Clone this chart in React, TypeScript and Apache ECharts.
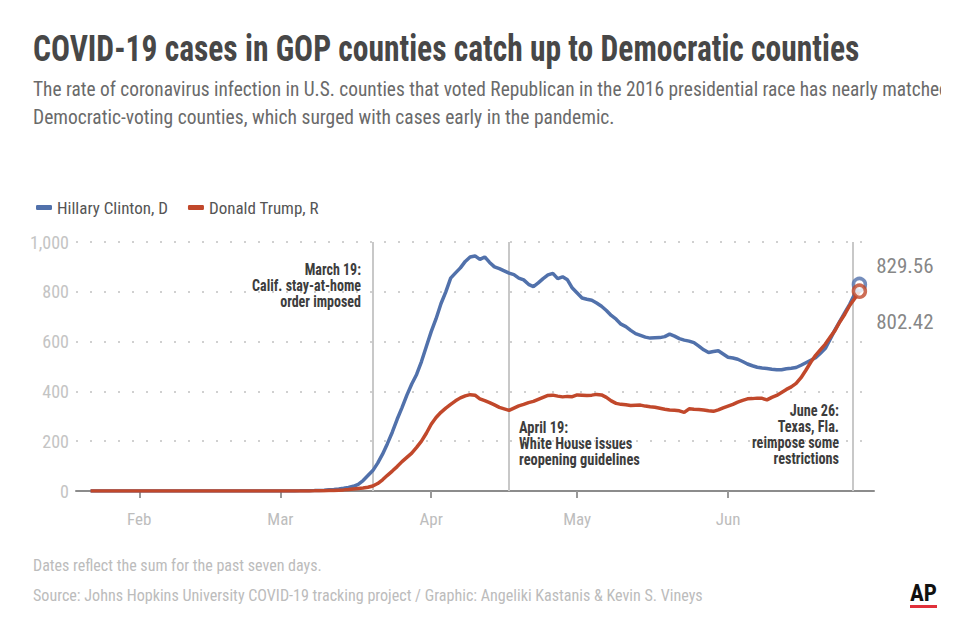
import React, { useEffect, useRef } from "react";
import * as echarts from "echarts";

// ---- Data (day index 0 = Jan 22, 2020; last = Jun 28, 2020) ----
const months = ["Feb", "Mar", "Apr", "May", "Jun"];
const monthStartDays = [10, 39, 70, 100, 131];
const yTicks = [0, 200, 400, 600, 800, 1000];
const eventDays = [58, 86, 156.6];

const clinton = [
  0, 0, 0, 0, 0, 0, 0, 0, 0, 0,
  0, 0, 0, 0, 0, 0, 0, 0, 0, 0,
  0, 0, 0, 0, 0, 0, 0, 0, 0, 0,
  0, 0, 0, 0, 0, 0, 0, 0, 0,
  0.2, 0.3, 0.4, 0.5, 0.7, 1, 1.3, 1.8, 2.5, 3.5,
  5, 6.5, 8.5, 11, 14, 19, 27, 42, 62, 82,
  112, 148, 190, 236, 288, 335, 385, 430, 468, 520,
  580, 640, 692, 752, 800, 855, 876, 896, 922, 940,
  944, 930, 940, 918, 900, 893, 884, 875, 869, 855,
  848, 830, 821, 836, 853, 868, 874, 853, 860, 848,
  815, 795, 775, 770, 766, 755, 742, 725, 705, 690,
  670, 660, 645, 632, 625, 618, 614, 615, 616, 620,
  630, 622, 612, 606, 602, 596, 582, 567, 556, 560,
  563, 550, 537, 534, 529, 520, 510, 503, 497, 494,
  492, 489, 487, 487, 491, 493, 496, 505, 515, 525,
  535, 553, 573, 610, 648, 682, 716, 750, 790, 829.56,
];

const trump = [
  0, 0, 0, 0, 0, 0, 0, 0, 0, 0,
  0, 0, 0, 0, 0, 0, 0, 0, 0, 0,
  0, 0, 0, 0, 0, 0, 0, 0, 0, 0,
  0, 0, 0, 0, 0, 0, 0, 0, 0, 0,
  0.1, 0.1, 0.2, 0.3, 0.4, 0.5, 0.7, 1, 1.4, 2,
  2.5, 3.5, 4.5, 6, 8, 10, 12, 15, 20, 30,
  45, 63, 80, 98, 118, 135, 152, 175, 200, 232,
  268, 295, 316, 333, 348, 362, 374, 382, 387, 385,
  370, 363, 355, 346, 336, 330, 324, 333, 342, 348,
  355, 360, 368, 376, 384, 385, 381, 378, 380, 379,
  386, 385, 384, 385, 388, 386, 376, 362, 352, 348,
  346, 343, 344, 345, 341, 338, 336, 332, 328, 325,
  324, 322, 316, 330, 328, 327, 325, 322, 320, 326,
  334, 341, 348, 357, 364, 370, 371, 373, 372, 366,
  376, 384, 396, 408, 418, 432, 455, 485, 517, 545,
  568, 590, 618, 645, 680, 710, 745, 772, 802.42,
];

const BLUE = "#5171ab";
const RED = "#c1482b";
const FONT =
  "'Liberation Sans Narrow', 'Roboto Condensed', 'DejaVu Sans Condensed', Roboto, sans-serif";

function measure(text: string, font: string): number {
  const c = document.createElement("canvas").getContext("2d");
  if (!c) return 100;
  c.font = font;
  return c.measureText(text).width;
}

function fitText(
  text: string,
  x: number,
  y: number,
  width: number,
  size: number,
  weight: string,
  color: string,
  align: string = "left",
  lineHeight?: number,
  measureText?: string
) {
  const lines = (measureText || text).split("\n");
  const font = `${weight} ${size}px ${FONT}`;
  const w = Math.max(...lines.map((l) => measure(l, font)));
  const sx = w > 0 ? width / w : 1;
  return {
    type: "text",
    x,
    y,
    scaleX: sx,
    silent: true,
    style: {
      text,
      x: 0,
      y: 0,
      fill: color,
      fontSize: size,
      fontWeight: weight,
      fontFamily: FONT,
      align,
      verticalAlign: "top",
      lineHeight: lineHeight || size * 1.2,
    },
  };
}

export default function App() {
  const ref = useRef<HTMLDivElement>(null);
  useEffect(() => {
    if (!ref.current) return;
    const chart = echarts.init(ref.current, null, { renderer: "svg" });
    const blueData = clinton.map((v, i) => [i, v]);
    const redData = trump.map((v, i) => [i, v]);
    const lastB = clinton.length - 1;
    const lastR = trump.length - 1;

    const sub1 =
      "The rate of coronavirus infection in U.S. counties that voted Republican in the 2016 presidential race has nearly matched";
    const sub2 =
      "Democratic-voting counties, which surged with cases early in the pandemic.";

    const option: any = {
      animation: false,
      backgroundColor: "#ffffff",
      textStyle: { fontFamily: FONT },
      grid: { left: 76, right: 86, top: 242, bottom: 129 },
      legend: {
        left: 31,
        top: 194,
        icon: "roundRect",
        itemWidth: 16,
        itemHeight: 5,
        itemGap: 20,
        data: ["Hillary Clinton, D", "Donald Trump, R"],
        textStyle: { fontSize: 17, color: "#555", fontFamily: FONT },
      },
      xAxis: {
        type: "value",
        min: -3,
        max: 161,
        axisLine: { lineStyle: { color: "#8c8c8c", width: 2 } },
        axisTick: {
          show: true,
          customValues: monthStartDays,
          length: 7,
          lineStyle: { color: "#999", width: 2 },
        },
        axisLabel: {
          customValues: monthStartDays,
          formatter: (v: number) => months[monthStartDays.indexOf(v)] || "",
          color: "#bdbdbd",
          fontSize: 17,
          margin: 19,
          fontFamily: FONT,
        },
        splitLine: { show: false },
      },
      yAxis: {
        type: "value",
        min: yTicks[0],
        max: yTicks[yTicks.length - 1],
        interval: 200,
        axisLine: { show: false },
        axisTick: { show: false },
        axisLabel: {
          formatter: (v: number) => v.toLocaleString("en-US"),
          color: "#c4c4c4",
          fontSize: 18,
          margin: 7,
          fontFamily: FONT,
        },
        splitLine: {
          lineStyle: { color: "#d0d0d0", type: [2, 12], width: 2 },
        },
      },
      series: [
        {
          name: "Hillary Clinton, D",
          type: "line",
          data: blueData,
          showSymbol: false,
          color: BLUE,
          lineStyle: { width: 3.5, color: BLUE },
          z: 3,
          markLine: {
            silent: true,
            symbol: ["none", "none"],
            label: { show: false },
            lineStyle: { color: "#c8c8c8", type: "solid", width: 2 },
            data: eventDays.map((d) => ({ xAxis: d })),
            z: 1,
          },
        },
        {
          name: "Donald Trump, R",
          type: "line",
          data: redData,
          showSymbol: false,
          color: RED,
          lineStyle: { width: 3.5, color: RED },
          z: 4,
        },
        {
          name: "endB",
          type: "scatter",
          z: 5,
          data: [[lastB, clinton[lastB]]],
          symbol: "circle",
          symbolSize: 12,
          itemStyle: { color: "#fff", borderColor: BLUE, borderWidth: 3.5 },
          label: {
            show: true,
            position: "right",
            distance: 9,
            offset: [0, -18],
            formatter: (p: any) => p.value[1].toFixed(2),
            color: "#666",
            fontSize: 21,
            fontFamily: FONT,
          },
        },
        {
          name: "endR",
          type: "scatter",
          z: 6,
          data: [[lastR, trump[lastR]]],
          symbol: "circle",
          symbolSize: 12,
          itemStyle: { color: "#fff", borderColor: RED, borderWidth: 3.5 },
          label: {
            show: true,
            position: "right",
            distance: 9,
            offset: [0, 31],
            formatter: (p: any) => p.value[1].toFixed(2),
            color: "#666",
            fontSize: 21,
            fontFamily: FONT,
          },
        },
      ],
      graphic: [
        fitText(
          "COVID-19 cases in GOP counties catch up to Democratic counties",
          33,
          26,
          827,
          37,
          "bold",
          "#474747"
        ),
        fitText(
          sub1,
          33,
          75,
          907,
          21,
          "normal",
          "#6a6a6a",
          "left",
          28,
          sub1.slice(0, -1)
        ),
        fitText(sub2, 33, 103, 582, 21, "normal", "#6a6a6a", "left", 28),
        {
          type: "rect",
          silent: true,
          shape: { x: 941, y: 72, width: 19, height: 32 },
          style: { fill: "#ffffff" },
        },
        fitText(
          "March 19:\nCalif. stay-at-home\norder imposed",
          361,
          262,
          109,
          16,
          "bold",
          "#3d3d3d",
          "right",
          16
        ),
        fitText(
          "April 19:\nWhite House issues\nreopening guidelines",
          519,
          420,
          121,
          16,
          "bold",
          "#3d3d3d",
          "left",
          16
        ),
        fitText(
          "June 26:\nTexas, Fla.\nreimpose some\nrestrictions",
          839,
          403,
          87,
          16,
          "bold",
          "#3d3d3d",
          "right",
          16
        ),
        fitText(
          "Dates reflect the sum for the past seven days.",
          33,
          556,
          289,
          16,
          "normal",
          "#bcbcbc"
        ),
        fitText(
          "Source: Johns Hopkins University COVID-19 tracking project / Graphic: Angeliki Kastanis & Kevin S. Vineys",
          33,
          586,
          670,
          16,
          "normal",
          "#bcbcbc"
        ),
        fitText("AP", 910, 580, 27, 23, "bold", "#111"),
        {
          type: "rect",
          silent: true,
          shape: { x: 910, y: 605, width: 27, height: 3 },
          style: { fill: "#e0303a" },
        },
      ],
    };
    chart.setOption(option);
    return () => chart.dispose();
  }, []);
  return (
    <div
      ref={ref}
      style={{ position: "absolute", left: 0, top: 0, width: 960, height: 620 }}
    />
  );
}
